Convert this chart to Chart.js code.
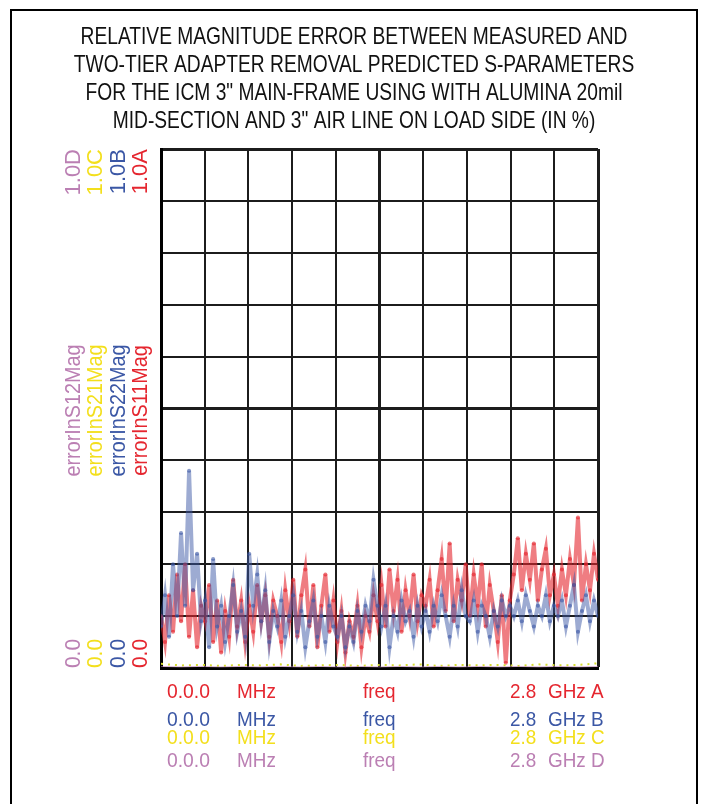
<!DOCTYPE html>
<html lang="en">
<head>
    <meta charset="UTF-8">
    <title>Relative Magnitude Error</title>
    <script src="https://cdn.jsdelivr.net/npm/chart.js"></script>
    <style>
        html, body { margin: 0; padding: 0; background: #fff; }
        .wrap { width: 701px; height: 804px; }
    </style>
</head>
<body>
    <div class="wrap">
        <canvas id="errorChart" width="701" height="804"></canvas>
    </div>

    <script>
        // sweep: 0 MHz .. 2.8 GHz
        const freqStart = 0.0;
        const freqStop = 2.8;

        const titleLines = [
            'RELATIVE MAGNITUDE ERROR BETWEEN MEASURED AND',
            'TWO-TIER ADAPTER REMOVAL PREDICTED S-PARAMETERS',
            'FOR THE ICM 3" MAIN-FRAME USING WITH ALUMINA 20mil',
            'MID-SECTION AND 3" AIR LINE ON LOAD SIDE (IN %)'
        ];

        const traceNames = ['errorInS11Mag', 'errorInS22Mag', 'errorInS21Mag', 'errorInS12Mag'];
        const traceTags = ['A', 'B', 'C', 'D'];
        const traceTop = ['1.0A', '1.0B', '1.0C', '1.0D'];
        const traceBottom = ['0.0', '0.0', '0.0', '0.0'];

        // errorInS11Mag (red)
        const s11 = [
            0.10, 0.05, 0.14, 0.07, 0.18, 0.09, 0.20, 0.06, 0.15, 0.04, 0.12,
            0.09, 0.16, 0.05, 0.13, 0.03, 0.11, 0.06, 0.17, 0.08, 0.13, 0.05,
            0.12, 0.07, 0.16, 0.09, 0.14, 0.06, 0.13, 0.10, 0.05, 0.15, 0.09,
            0.17, 0.06, 0.14, 0.19, 0.08, 0.16, 0.04, 0.12, 0.18, 0.07, 0.13,
            0.05, 0.11, 0.03, 0.09, 0.06, 0.12, 0.04, 0.10, 0.07, 0.14, 0.09,
            0.16, 0.08, 0.19, 0.11, 0.17, 0.07, 0.15, 0.10, 0.18, 0.09, 0.14,
            0.12, 0.17, 0.08, 0.15, 0.21, 0.11, 0.24, 0.09, 0.17, 0.13, 0.20,
            0.10, 0.18, 0.12, 0.20, 0.08, 0.16, 0.11, 0.05, 0.14, 0.01, 0.13,
            0.18, 0.25, 0.15, 0.22, 0.17, 0.24, 0.13, 0.19, 0.23, 0.14, 0.18,
            0.12, 0.19, 0.14, 0.21, 0.16, 0.29, 0.13, 0.20, 0.15, 0.22, 0.17
        ];

        // errorInS22Mag (blue)
        const s22 = [
            0.08, 0.14, 0.06, 0.20, 0.10, 0.26, 0.12, 0.38, 0.15, 0.22, 0.09,
            0.13, 0.04, 0.21, 0.08, 0.12, 0.05, 0.10, 0.16, 0.07, 0.11, 0.06,
            0.22, 0.12, 0.18, 0.09, 0.15, 0.05, 0.11, 0.08, 0.13, 0.06, 0.10,
            0.14, 0.07, 0.11, 0.04, 0.09, 0.13, 0.06, 0.10, 0.05, 0.12, 0.08,
            0.06, 0.10, 0.04, 0.08, 0.05, 0.11, 0.07, 0.12, 0.09, 0.17, 0.12,
            0.08, 0.12, 0.04, 0.10, 0.07, 0.13, 0.09, 0.11, 0.06, 0.12, 0.08,
            0.11, 0.07, 0.12, 0.09, 0.14, 0.10, 0.06, 0.12, 0.08, 0.15, 0.10,
            0.09, 0.13, 0.07, 0.12, 0.10, 0.06, 0.11, 0.08, 0.13, 0.10, 0.12,
            0.10, 0.13, 0.09, 0.14, 0.11, 0.08, 0.12, 0.10, 0.14, 0.09, 0.12,
            0.10, 0.13, 0.08, 0.12, 0.16, 0.07, 0.11, 0.14, 0.09, 0.13, 0.10
        ];

        // errorInS21Mag (yellow) and errorInS12Mag (purple), both close to zero
        const s21 = [
            0.008, 0.005, 0.006, 0.004, 0.006, 0.005, 0.007, 0.004, 0.005, 0.006, 0.004, 0.006,
            0.005, 0.007, 0.004, 0.006, 0.005, 0.006, 0.004, 0.007, 0.005, 0.006, 0.009
        ];
        const s12 = [
            0.003, 0.002, 0.003, 0.002, 0.003, 0.002, 0.003, 0.002, 0.003, 0.002, 0.003, 0.002,
            0.003, 0.002, 0.003, 0.002, 0.003, 0.002, 0.003, 0.002, 0.003, 0.002, 0.003
        ];

        const colors = ['#e5262f', '#3b57a5', '#f3df1c', '#bb7fb3'];

        function toPoints(values) {
            const step = (freqStop - freqStart) / (values.length - 1);
            return values.map((v, i) => ({ x: freqStart + i * step, y: v }));
        }

        const sans = "'Liberation Sans', Arial, sans-serif";

        // squeezed text to look like the condensed face of the original plot
        function narrowText(ctx, text, x, y, squeeze) {
            ctx.save();
            ctx.translate(x, y);
            ctx.scale(squeeze, 1);
            ctx.fillText(text, 0, 0);
            ctx.restore();
        }

        // Frame around the whole picture
        const framePlugin = {
            id: 'frame',
            beforeDraw(chart) {
                const ctx = chart.ctx;
                ctx.save();
                ctx.fillStyle = '#fff';
                ctx.fillRect(0, 0, chart.width, chart.height);
                ctx.strokeStyle = '#000';
                ctx.lineWidth = 2;
                ctx.strokeRect(11, 10, 686, 830);
                ctx.restore();
            }
        };

        // Title, rotated trace labels and frequency labels
        const labelPlugin = {
            id: 'labels',
            afterDraw(chart) {
                const ctx = chart.ctx;
                const xs = chart.scales.x;
                const ys = chart.scales.y;
                ctx.save();

                ctx.fillStyle = '#111';
                ctx.font = '24px ' + sans;
                ctx.textAlign = 'center';
                ctx.textBaseline = 'middle';
                titleLines.forEach((line, i) => {
                    narrowText(ctx, line, 354, 37 + i * 28, 0.8);
                });

                const yTop = ys.getPixelForValue(1);
                const yBot = ys.getPixelForValue(0);
                const yMid = ys.getPixelForValue(0.5);
                const colX = [141, 119, 96, 74];
                ctx.font = '22px ' + sans;
                for (let i = 0; i < 4; i++) {
                    ctx.save();
                    ctx.translate(colX[i], 0);
                    ctx.rotate(-Math.PI / 2);
                    ctx.fillStyle = colors[i];
                    ctx.textBaseline = 'middle';
                    ctx.textAlign = 'right';
                    narrowText(ctx, traceTop[i], -yTop, 0, 1.0);
                    ctx.textAlign = 'left';
                    narrowText(ctx, traceBottom[i], -yBot, 0, 0.95);
                    ctx.textAlign = 'center';
                    narrowText(ctx, traceNames[i], -yMid - 2, 0, 0.9);
                    ctx.restore();
                }

                const x0 = xs.getPixelForValue(freqStart);
                const rowY = [692, 720, 738, 761];
                ctx.font = '21px ' + sans;
                ctx.textAlign = 'left';
                ctx.textBaseline = 'middle';
                for (let i = 0; i < 4; i++) {
                    ctx.fillStyle = colors[i];
                    narrowText(ctx, '0.0.0', x0 + 6, rowY[i], 0.92);
                    narrowText(ctx, 'MHz', x0 + 76, rowY[i], 0.9);
                    narrowText(ctx, 'freq', x0 + 202, rowY[i], 0.9);
                    narrowText(ctx, '2.8', x0 + 349, rowY[i], 0.9);
                    narrowText(ctx, 'GHz ' + traceTags[i], x0 + 387, rowY[i], 0.9);
                }
                ctx.restore();
            }
        };

        const ctx = document.getElementById('errorChart').getContext('2d');
        new Chart(ctx, {
            type: 'line',
            data: {
                datasets: [
                    {
                        label: traceNames[3],
                        data: toPoints(s12),
                        borderColor: 'rgba(187, 127, 179, 0.6)',
                        borderWidth: 1,
                        pointRadius: 0
                    },
                    {
                        label: traceNames[2],
                        data: toPoints(s21),
                        borderColor: 'rgba(215, 220, 50, 1)',
                        borderWidth: 2,
                        borderDash: [2, 5],
                        pointRadius: 0
                    },
                    {
                        label: traceNames[1],
                        data: toPoints(s22),
                        borderColor: 'rgba(59, 87, 165, 0.5)',
                        borderWidth: 4,
                        pointRadius: 2,
                        pointBackgroundColor: 'rgba(59, 87, 165, 0.6)',
                        pointBorderWidth: 0
                    },
                    {
                        label: traceNames[0],
                        data: toPoints(s11),
                        borderColor: 'rgba(229, 38, 47, 0.6)',
                        borderWidth: 4,
                        pointRadius: 2,
                        pointBackgroundColor: 'rgba(229, 38, 47, 0.65)',
                        pointBorderWidth: 0
                    }
                ]
            },
            options: {
                responsive: false,
                animation: false,
                devicePixelRatio: 1,
                layout: { padding: { left: 161, right: 103, top: 149, bottom: 136 } },
                plugins: {
                    legend: { display: false },
                    tooltip: { enabled: false }
                },
                scales: {
                    x: {
                        type: 'linear',
                        min: freqStart,
                        max: freqStop,
                        ticks: { display: false, stepSize: 0.28 },
                        grid: {
                            color: '#1c1c1c',
                            drawTicks: false,
                            lineWidth: (c) => (c.index === 5 || c.index === 10 ? 3 : 2)
                        },
                        border: { display: true, color: '#000', width: 3 }
                    },
                    y: {
                        min: 0,
                        max: 1,
                        ticks: { display: false, stepSize: 0.1 },
                        grid: {
                            color: '#1c1c1c',
                            drawTicks: false,
                            lineWidth: (c) => (c.index === 5 || c.index === 10 ? 3 : 2)
                        },
                        border: { display: true, color: '#000', width: 3 }
                    }
                }
            },
            plugins: [framePlugin, labelPlugin]
        });
    </script>
</body>
</html>
